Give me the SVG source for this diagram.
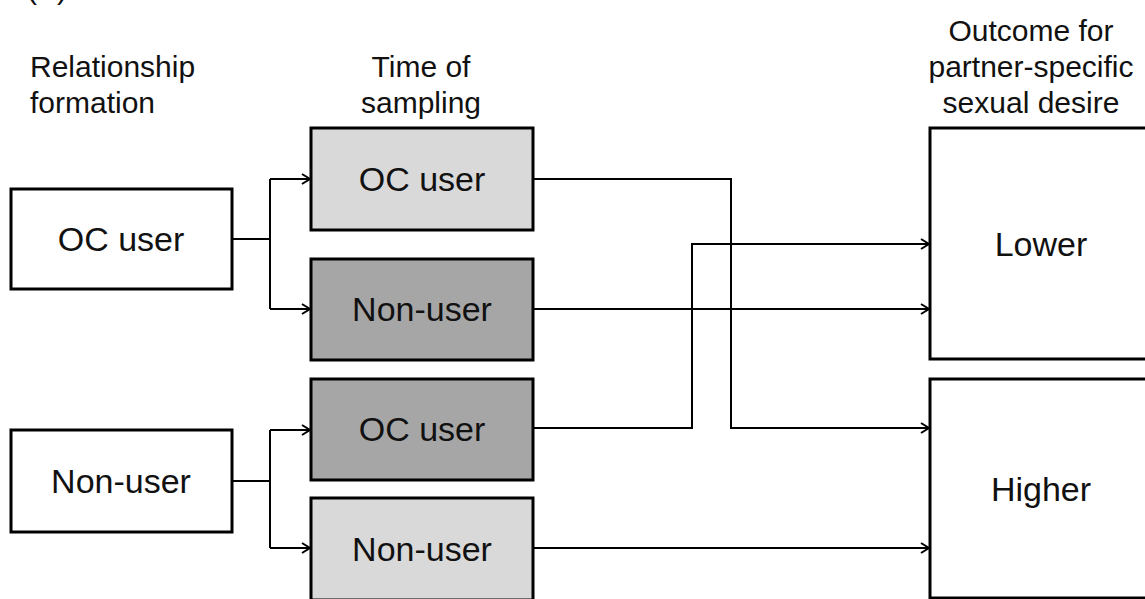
<svg xmlns="http://www.w3.org/2000/svg" width="1145" height="599" viewBox="0 0 1145 599">
  <defs>
    <style>
      text { font-family: "Liberation Sans", Arial, sans-serif; fill: #111; }
      .hdr { font-size: 30px; }
      .lbl { font-size: 34px; text-anchor: middle; }
      .box { stroke: #000; stroke-width: 3; }
      .white { fill: #fff; }
      .light { fill: #d9d9d9; }
      .dark { fill: #a6a6a6; }
      .conn { fill: none; stroke: #000; stroke-width: 2; }
    </style>
    <marker id="arr" markerUnits="userSpaceOnUse" markerWidth="12" markerHeight="14" refX="9" refY="6" orient="auto">
      <path d="M1,1 L9,6 L1,11" fill="none" stroke="#000" stroke-width="2"/>
    </marker>
  </defs>
  <rect width="1145" height="599" fill="#fff"/>

  <text class="hdr" x="27" y="-1">(A)</text>
  <text class="hdr" x="30" y="77">Relationship</text>
  <text class="hdr" x="30" y="113">formation</text>
  <text class="hdr" x="421" y="77" text-anchor="middle">Time of</text>
  <text class="hdr" x="421" y="113" text-anchor="middle">sampling</text>
  <text class="hdr" x="1031" y="41" text-anchor="middle">Outcome for</text>
  <text class="hdr" x="1031" y="77" text-anchor="middle">partner-specific</text>
  <text class="hdr" x="1031" y="113" text-anchor="middle">sexual desire</text>

  <g id="connectors">
    <path class="conn" d="M232,239 H270"/>
    <path class="conn" d="M270,179 V309" />
    <path class="conn" d="M270,179 H310" marker-end="url(#arr)"/>
    <path class="conn" d="M270,309 H310" marker-end="url(#arr)"/>
    <path class="conn" d="M232,481 H270"/>
    <path class="conn" d="M270,430 V548"/>
    <path class="conn" d="M270,430 H310" marker-end="url(#arr)"/>
    <path class="conn" d="M270,548 H310" marker-end="url(#arr)"/>
    <path class="conn" d="M533,179 H731 V428 H929" marker-end="url(#arr)"/>
    <path class="conn" d="M533,309 H929" marker-end="url(#arr)"/>
    <path class="conn" d="M533,428 H692 V244 H929" marker-end="url(#arr)"/>
    <path class="conn" d="M533,548 H929" marker-end="url(#arr)"/>
  </g>

  <g id="form-oc">
    <rect class="box white" x="11" y="189" width="221" height="100"/>
    <text class="lbl" x="121" y="251">OC user</text>
  </g>
  <g id="form-non">
    <rect class="box white" x="11" y="430" width="221" height="102"/>
    <text class="lbl" x="121" y="493">Non-user</text>
  </g>
  <g id="samp-oc-1">
    <rect class="box light" x="311" y="128" width="222" height="102"/>
    <text class="lbl" x="422" y="191">OC user</text>
  </g>
  <g id="samp-non-1">
    <rect class="box dark" x="311" y="259" width="222" height="101"/>
    <text class="lbl" x="422" y="321">Non-user</text>
  </g>
  <g id="samp-oc-2">
    <rect class="box dark" x="311" y="379" width="222" height="101"/>
    <text class="lbl" x="422" y="441">OC user</text>
  </g>
  <g id="samp-non-2">
    <rect class="box light" x="311" y="498" width="222" height="102"/>
    <text class="lbl" x="422" y="561">Non-user</text>
  </g>
  <g id="out-lower">
    <rect class="box white" x="930" y="128" width="222" height="231"/>
    <text class="lbl" x="1041" y="256">Lower</text>
  </g>
  <g id="out-higher">
    <rect class="box white" x="930" y="379" width="222" height="219"/>
    <text class="lbl" x="1041" y="501">Higher</text>
  </g>
</svg>
